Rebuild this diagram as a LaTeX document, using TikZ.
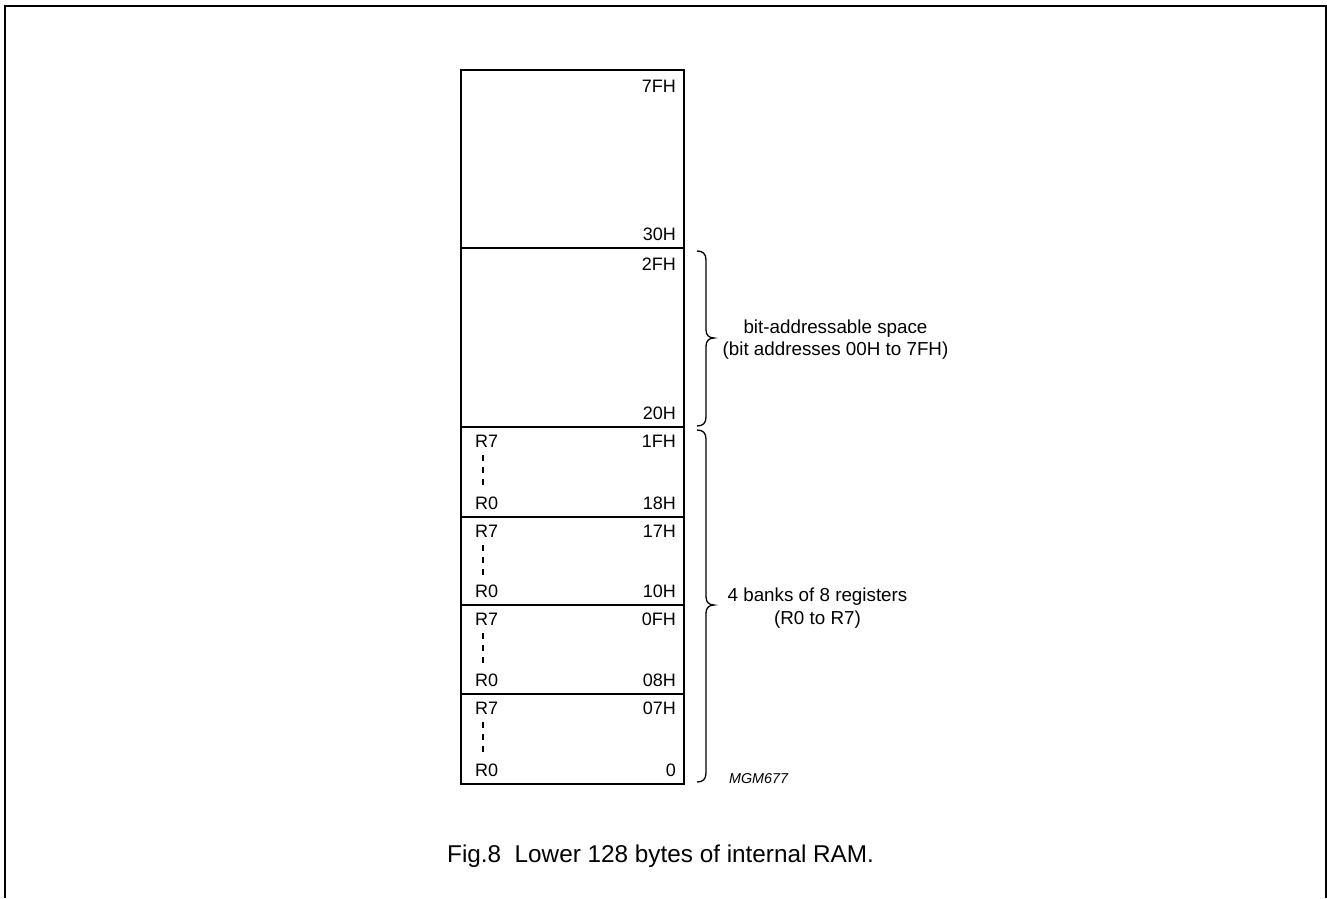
\documentclass[tikz,border=0pt]{standalone}
\usepackage{fontspec}
\setmainfont{Liberation Sans}
\begin{document}
\begin{tikzpicture}[x=1pt,y=-1pt,
  cell/.style={line width=1.4pt},
  frame/.style={line width=2pt},
  lbl/.style={inner sep=0pt,font=\fontsize{18}{20}\selectfont},
  side/.style={inner sep=0pt,font=\fontsize{18.8}{22}\selectfont,align=center},
  brace/.style={line width=1.3pt},
  regdash/.style={line width=1.1pt,dash pattern=on 6pt off 6pt}]
\useasboundingbox (0,0) rectangle (1327,898);
% outer frame (open at bottom)
\draw[frame] (5,898) -- (5,5.5) -- (1325.5,5.5) -- (1325.5,898);
% memory blocks
\draw[cell] (461,70) rectangle (684,248);
\draw[cell] (461,248) rectangle (684,427);
\node[lbl,anchor=base east] (l7f) at (676,92) {7FH};
\node[lbl,anchor=base east] (l30) at (676,240) {30H};
\node[lbl,anchor=base east] (l2f) at (676,270) {2FH};
\node[lbl,anchor=base east] (l20) at (676,419) {20H};
\foreach \t/\b/\hi/\lo [count=\i] in {427/517/1FH/18H, 517/605/17H/10H, 605/694/0FH/08H, 694/784/07H/0}{
  \draw[cell] (461,\t) rectangle (684,\b);
  \node[lbl,anchor=base east] (hi\i) at (676,\t+20) {\hi};
  \node[lbl,anchor=base east] (lo\i) at (676,\b-8) {\lo};
  \node[lbl,anchor=base west] (rs\i) at (475,\t+20) {R7};
  \node[lbl,anchor=base west] (rz\i) at (475,\b-8) {R0};
  \draw[regdash] (483,\t+28) -- (483,\t+58);
}
% braces
\draw[brace] (697,251) .. controls (703,251) and (706,254) .. (706,260) -- (706,330)
  .. controls (706,335) and (709,338) .. (714,338)
  .. controls (709,338) and (706,341) .. (706,346) -- (706,417)
  .. controls (706,423) and (703,426) .. (697,426);
\draw[brace] (697,430) .. controls (703,430) and (706,433) .. (706,439) -- (706,597)
  .. controls (706,602) and (709,605) .. (714,605)
  .. controls (709,605) and (706,608) .. (706,613) -- (706,773)
  .. controls (706,779) and (703,782) .. (697,782);
\node[side,anchor=base] (bit1) at (835.5,333) {bit-addressable space};
\node[side,anchor=base] (bit2) at (835.5,355) {(bit addresses 00H to 7FH)};
\node[side,anchor=base] (bk1) at (817.5,601) {4 banks of 8 registers};
\node[side,anchor=base] (bk2) at (817.5,624) {(R0 to R7)};
\node[inner sep=0pt,anchor=base west,font=\fontsize{14.3}{16}\selectfont\itshape] (mgm) at (729,783) {MGM677};
\node[inner sep=0pt,anchor=base west,font=\fontsize{24.3}{27}\selectfont] (cap) at (447,862) {Fig.8\ \ Lower 128 bytes of internal RAM.};
\end{tikzpicture}
\end{document}
